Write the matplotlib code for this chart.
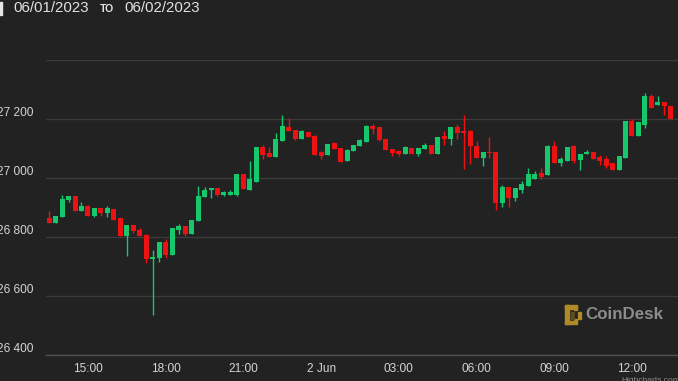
import matplotlib
matplotlib.use('Agg')
import matplotlib.pyplot as plt
import matplotlib.dates as mdates
from matplotlib.patches import Rectangle
import pandas as pd
import numpy as np

plt.rcParams['font.family'] = ['Liberation Sans', 'DejaVu Sans']

# ---- data (15-minute BTC candles, 06/01/2023 13:30 -> 06/02/2023 13:30) ----
start_time = '2023-06-01 13:30'
interval = '15min'

opens = [26864, 26847, 26868, 26924, 26940, 26887, 26904, 26870, 26897, 26881,
         26895, 26864, 26802, 26841, 26825, 26807, 26725, 26729, 26783, 26739,
         26825, 26838, 26810, 26853, 26936, 26958, 26966, 26943, 26944, 26943,
         27015, 26960, 26988, 27104, 27085, 27071, 27124, 27173, 27162, 27133,
         27157, 27141, 27087, 27077, 27119, 27102, 27056, 27090, 27107, 27121,
         27175, 27173, 27132, 27098, 27090, 27082, 27102, 27082, 27098, 27111,
         27082, 27141, 27132, 27173, 27158, 27158, 27110, 27068, 27087, 27087,
         26915, 26969, 26932, 26960, 26972, 26998, 27017, 27009, 27107, 27050,
         27059, 27107, 27062, 27080, 27087, 27071, 27065, 27051, 27026, 27068,
         27192, 27141, 27181, 27279, 27247, 27257, 27243]
highs = [26887, 26872, 26941, 26940, 26940, 26919, 26908, 26897, 26897, 26904,
         26895, 26864, 26841, 26841, 26830, 26811, 26757, 26782, 26793, 26829,
         26844, 26838, 26858, 26974, 26969, 26966, 26966, 26956, 26958, 27015,
         27015, 27056, 27104, 27113, 27104, 27153, 27212, 27203, 27162, 27164,
         27157, 27147, 27090, 27115, 27123, 27102, 27098, 27111, 27133, 27181,
         27184, 27173, 27132, 27098, 27094, 27107, 27102, 27103, 27119, 27111,
         27139, 27158, 27173, 27184, 27215, 27164, 27124, 27087, 27138, 27087,
         26977, 26969, 26966, 26989, 27034, 27023, 27034, 27112, 27124, 27070,
         27104, 27112, 27082, 27094, 27087, 27078, 27076, 27051, 27073, 27192,
         27200, 27189, 27288, 27286, 27279, 27257, 27243]
lows = [26847, 26847, 26868, 26919, 26887, 26887, 26870, 26867, 26870, 26867,
        26859, 26802, 26734, 26813, 26802, 26712, 26537, 26716, 26729, 26739,
        26811, 26802, 26810, 26853, 26936, 26932, 26938, 26939, 26942, 26938,
        26963, 26960, 26988, 27064, 27071, 27071, 27124, 27159, 27130, 27133,
        27138, 27079, 27064, 27077, 27099, 27055, 27056, 27090, 27107, 27121,
        27150, 27124, 27094, 27076, 27073, 27082, 27081, 27076, 27098, 27082,
        27082, 27113, 27113, 27132, 27030, 27047, 27068, 27039, 27068, 26890,
        26902, 26902, 26921, 26949, 26972, 26998, 26997, 27009, 27050, 27042,
        27059, 27051, 27028, 27080, 27065, 27045, 27033, 27028, 27026, 27068,
        27141, 27141, 27170, 27237, 27247, 27212, 27200]
closes = [26847, 26872, 26930, 26940, 26887, 26904, 26870, 26897, 26881, 26897,
          26859, 26802, 26841, 26821, 26802, 26725, 26732, 26782, 26740, 26829,
          26838, 26810, 26858, 26940, 26960, 26966, 26941, 26951, 26954, 27015,
          26963, 26997, 27104, 27079, 27071, 27132, 27177, 27159, 27133, 27158,
          27138, 27079, 27073, 27115, 27099, 27055, 27096, 27111, 27130, 27175,
          27166, 27128, 27094, 27085, 27081, 27104, 27081, 27103, 27113, 27082,
          27139, 27132, 27173, 27153, 27153, 27107, 27068, 27087, 27085, 26915,
          26969, 26932, 26966, 26980, 27015, 27015, 27002, 27107, 27050, 27065,
          27104, 27059, 27082, 27087, 27065, 27057, 27042, 27028, 27073, 27192,
          27141, 27189, 27279, 27237, 27257, 27243, 27200]

y_ticks = [26400, 26600, 26800, 27000, 27200, 27400]
y_tick_labels = ['26 400', '26 600', '26 800', '27 000', '27 200', '']
x_tick_times = ['2023-06-01 15:00', '2023-06-01 18:00', '2023-06-01 21:00',
                '2023-06-02 00:00', '2023-06-02 03:00', '2023-06-02 06:00',
                '2023-06-02 09:00', '2023-06-02 12:00']
x_tick_labels = ['15:00', '18:00', '21:00', '2 Jun', '03:00', '06:00', '09:00', '12:00']

# ---- style ----
W, H = 678, 381
BG = '#222222'
GRID = '#3b3b3b'
UP = '#16c76c'
DOWN = '#ee1111'
TXT = '#d4d4d4'

fig = plt.figure(figsize=(W / 100, H / 100), dpi=100, facecolor=BG)
ax = fig.add_axes([46 / W, 1 - 355 / H, (W - 46) / W, (355 - 60) / H])
ax.set_facecolor(BG)

times = pd.date_range(start_time, periods=len(opens), freq=interval)
x = mdates.date2num(times.to_pydatetime())
o = np.array(opens, float); c = np.array(closes, float)
hi = np.array(highs, float); lo = np.array(lows, float)
up = c >= o
cols = np.where(up, UP, DOWN)

px_per_hour = 25.905
body_w = (5.0 / px_per_hour) / 24.0
ax.vlines(x, lo, hi, colors=cols, linewidth=1.0, zorder=3)
bottom = np.minimum(o, c)
height = np.maximum(np.abs(c - o), 2.5)
ax.bar(x, height, width=body_w, bottom=bottom, color=cols, linewidth=0, zorder=4)

x0 = x[0] - (3.1 / px_per_hour) / 24.0
x1 = x[0] + ((678 - 49.1) / px_per_hour) / 24.0
ax.set_xlim(x0, x1)
ax.set_ylim(26400, 27400)

ax.set_yticks(y_ticks, y_tick_labels, va='bottom')
ax.tick_params(axis='y', length=0, pad=9.4, labelsize=8.6, labelcolor=TXT)
ax.yaxis.grid(True, color=GRID, linewidth=1.0, zorder=0)
ax.xaxis.grid(False)

xt = mdates.date2num(pd.to_datetime(x_tick_times).to_pydatetime())
ax.set_xticks(xt, x_tick_labels)
ax.tick_params(axis='x', length=0, pad=5.4, labelsize=8.6, labelcolor=TXT)

for s in ['top', 'right', 'left']:
    ax.spines[s].set_visible(False)
ax.spines['bottom'].set_color('#505050')
ax.spines['bottom'].set_linewidth(1.0)

# ---- header ----
def fx(px):
    return px / W

def fy(py):
    return 1 - py / H

fig.text(fx(13), fy(8.5), '06/01/2023', color='#e2e2e2', fontsize=10.8, va='center', ha='left')
fig.text(fx(100), fy(8.5), 'TO', color='#e2e2e2', fontsize=7.6, fontweight='bold', va='center', ha='left')
fig.text(fx(124), fy(8.5), '06/02/2023', color='#e2e2e2', fontsize=10.8, va='center', ha='left')
fig.patches.append(Rectangle((0, fy(15)), fx(1.8), 13 / H, transform=fig.transFigure,
                             color='#e6e6e6', zorder=5))

# ---- CoinDesk watermark ----
gold = '#b08a26'
gold_dim = '#5e4d22'
def rect(px, py, w, h, col=gold):
    fig.patches.append(Rectangle((fx(px), fy(py + h)), w / W, h / H, transform=fig.transFigure,
                                 color=col, zorder=5))
rect(565, 305, 12, 3.5)
rect(565, 305, 3.5, 19)
rect(565, 320.5, 12, 3.5)
rect(574, 307, 3, 3)
rect(574, 318.5, 3, 3)
rect(571, 312, 2.5, 2.5, gold_dim)
rect(571, 316, 2.5, 2.5, gold_dim)
rect(578, 312, 2.5, 2.5)
rect(578, 316, 2.5, 2.5)
fig.text(fx(585), fy(314.5), 'CoinDesk', color='#8c8c8c', fontsize=12.2, fontweight='bold',
         va='center', ha='left')

fig.text(fx(621), fy(377), 'Highcharts.com', color='#8a8a8a', fontsize=6, va='top', ha='left')

fig.savefig('out.png', dpi=100, facecolor=BG)
